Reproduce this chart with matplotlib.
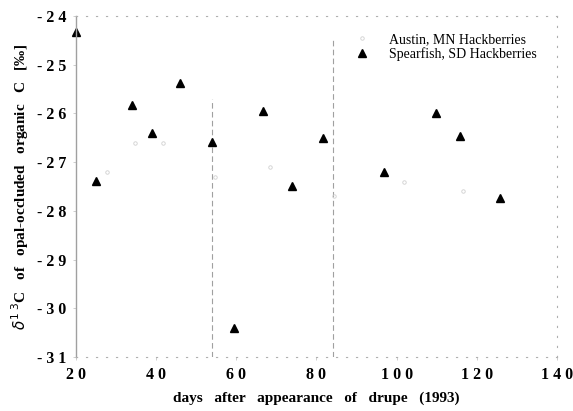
import numpy as np
import matplotlib.pyplot as plt
from matplotlib.ticker import FuncFormatter

# Spearfish, SD hackberries (solid triangles)
spearfish_days = [20, 25, 34, 39, 46, 54, 59.5, 66.7, 73.8, 81.7, 96.8, 109.9, 115.7, 125.8]
spearfish_d13c = [-24.32, -27.39, -25.83, -26.40, -25.38, -26.58, -30.40, -25.95,
                  -27.49, -26.50, -27.20, -26.00, -26.47, -27.74]

# Austin, MN hackberries (almost washed out in the scan)
austin_days = [27.7, 34.7, 41.7, 54.7, 68.4, 84.3, 101.9, 116.6]
austin_d13c = [-27.2, -26.6, -26.6, -27.3, -27.1, -27.7, -27.4, -27.6]

# faint vertical lines left in the scan: (day, bottom, top)
scan_lines = [(54, -31.0, -25.7), (84, -31.0, -24.5)]

xticks = [20, 40, 60, 80, 100, 120, 140]
yticks = [-24, -25, -26, -27, -28, -29, -30, -31]

plt.rcParams['font.family'] = ['Liberation Serif', 'DejaVu Serif']

fig = plt.figure(figsize=(5.73, 4.11), dpi=100)
ax = fig.add_axes([0.1326, 0.131, 0.8394, 0.830])

for x, lo, hi in scan_lines:
    ax.plot([x, x], [lo, hi], color='#a0a0a0', lw=0.8, ls=(0, (5, 3)))

ax.plot(austin_days, austin_d13c, ls='none', marker='o', ms=2.5,
        mfc='none', mec='#d0d0d0', mew=0.6, label='Austin, MN Hackberries')
ax.plot(spearfish_days, spearfish_d13c, ls='none', marker='^', ms=5.5,
        color='black', label='Spearfish, SD Hackberries', clip_on=False)

ax.set_xlim(20, 140)
ax.set_ylim(-31, -24)
ax.set_xticks(xticks)
ax.set_yticks(yticks)

spaced = FuncFormatter(lambda v, p: ' '.join(f'{v:g}'))
ax.xaxis.set_major_formatter(spaced)
ax.yaxis.set_major_formatter(spaced)
ax.tick_params(length=2, width=0.5, color='#bbbbbb', labelsize=11.5, pad=5)
for lab in ax.get_xticklabels() + ax.get_yticklabels():
    lab.set_fontweight('bold')

ax.spines['left'].set_color('#a0a0a0')
ax.spines['left'].set_linewidth(1.0)
for side in ['top', 'bottom', 'right']:
    ax.spines[side].set_color('#b0b0b0')
    ax.spines[side].set_linewidth(0.8)
    ax.spines[side].set_linestyle((0, (1, 8)))

ax.set_xlabel('days   after   appearance   of   drupe   (1993)',
              fontsize=11, fontweight='bold', labelpad=6)
ax.set_ylabel(r'$\delta^{1\ 3}$C   of   opal-occluded   organic   C   [‰]',
              fontsize=11, fontweight='bold', labelpad=4)

ax.legend(loc='upper right', bbox_to_anchor=(0.975, 0.975), frameon=False,
          fontsize=10, handlelength=1.0, handletextpad=1.4, labelspacing=0.1,
          borderaxespad=0.2)

fig.savefig('out.png', dpi=100)
